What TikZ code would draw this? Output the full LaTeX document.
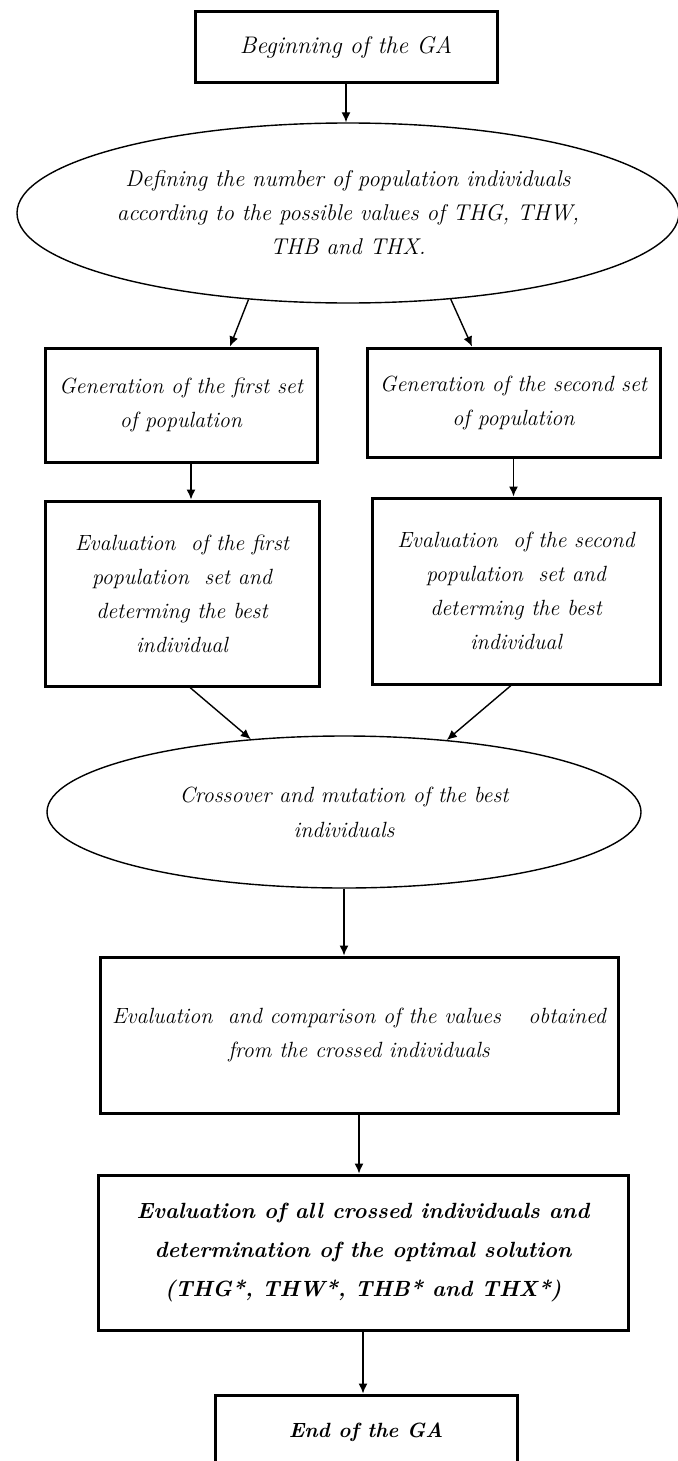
\documentclass[tikz,border=0pt]{standalone}
\usepackage{tikz}
\usetikzlibrary{calc,arrows.meta,shapes.geometric,positioning}
\tikzset{>={Latex[length=5pt,width=4.5pt]}}

\tikzset{
  txt/.style={font=\fontsize{11}{17}\selectfont\itshape},
  box/.style={draw, line width=1.5pt, align=center, inner sep=0pt, txt},
  oval/.style={draw, ellipse, line width=0.7pt, align=center, inner sep=0pt, txt},
  flow/.style={->, line width=0.7pt}
}

\begin{document}
\begin{tikzpicture}[x=0.5pt, y=-0.5pt]
    \useasboundingbox (0,0) rectangle (678,1461);

    % start and first selection
    \node[box, minimum width=151pt, minimum height=35.5pt, font=\fontsize{12}{17}\selectfont\itshape] (begin) at (346,47.5) {Beginning of the GA};
    \node[oval, minimum width=331pt, minimum height=90pt, font=\fontsize{11.4}{17}\selectfont\itshape] (def) at (348,213)
        {Defining the number of population individuals\\according to the possible values of THG, THW,\\THB and THX.};

    % the two population branches
    \node[box, minimum width=136pt, minimum height=57pt] (gen1) at (181,405) {Generation of the first set\\of population};
    \node[box, minimum width=146.5pt, minimum height=54.5pt] (gen2) at (513.5,402.5) {Generation of the second set\\of population};
    \node[box, minimum width=137pt, minimum height=92.5pt] (eval1) at (182,593.5)
        {Evaluation~ of the first\\population~ set and\\determing the best\\individual};
    \node[box, minimum width=144pt, minimum height=93pt] (eval2) at (516,591)
        {Evaluation~ of the second\\population~ set and\\determing the best\\individual};

    % crossing and result
    \node[oval, minimum width=297pt, minimum height=76pt] (cross) at (344,812)
        {Crossover and mutation of the best\\[0.5pt]individuals};
    \node[box, minimum width=259pt, minimum height=78pt] (cmp) at (359,1035)
        {Evaluation~ and comparison of the values\hspace{0.9em} obtained\\from the crossed individuals};
    \node[box, minimum width=265pt, minimum height=77.5pt, font=\fontsize{11}{19.5}\selectfont\bfseries\itshape] (best) at (363,1252.5)
        {Evaluation of all crossed individuals and\\determination of the optimal solution\\(THG*, THW*, THB* and THX*)};
    \node[box, minimum width=151pt, minimum height=37pt, font=\fontsize{10.3}{17}\selectfont\bfseries\itshape] (end) at (366,1432) {End of the GA};

    % connectors
    \draw[flow] (begin.south) -- (begin.south |- def.north);
    \draw[flow] (def.221) -- ($(gen1.north)+(49,0)$);
    \draw[flow] (def.320) -- ($(gen2.north)+(-41.5,0)$);
    \draw[flow] ($(gen1.south)+(10,0)$) -- ($(eval1.north)+(9,0)$);
    \draw[flow] (gen2.south) -- (gen2.south |- eval2.north);
    \draw[flow] ($(eval1.south)+(8,0)$) -- (cross.142);
    \draw[flow] ($(eval2.south)+(-5,0)$) -- (cross.35);
    \draw[flow] (cross.south) -- (cross.south |- cmp.north);
    \draw[flow] (cmp.south) -- (cmp.south |- best.north);
    \draw[flow] (best.south) -- (best.south |- end.north);
\end{tikzpicture}
\end{document}
